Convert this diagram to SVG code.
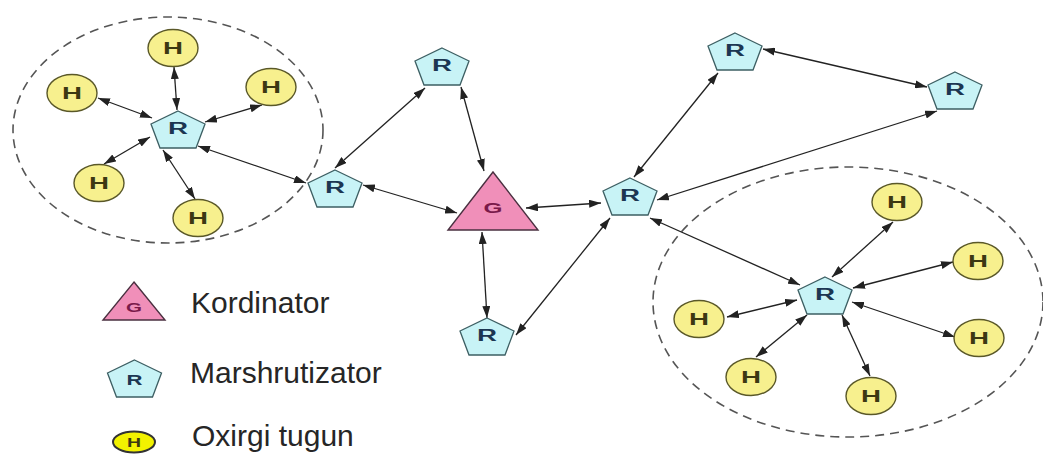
<svg xmlns="http://www.w3.org/2000/svg" width="1043" height="454" viewBox="0 0 1043 454">
<style>
.bg{fill:#ffffff}
.grp{fill:none;stroke:#555;stroke-width:1.6;stroke-dasharray:9 6}
.pent{fill:#c8f3f6;stroke:#3d5f63;stroke-width:1.3}
.host{fill:#f7f08e;stroke:#5a5828;stroke-width:1.4}
.coord{fill:#f08fb9;stroke:#4a3040;stroke-width:1.4}
.lbl{font-family:"Liberation Sans",Arial,sans-serif;font-weight:bold;text-anchor:middle}
.rt{fill:#1c3652;font-size:16px}
.ht{fill:#3c3812;font-size:16px}
.gt{fill:#7a1a4a;font-size:14px}
.edge{stroke:#222;stroke-width:1.3;fill:none;marker-start:url(#ah);marker-end:url(#ah)}
.leg{font-family:"Liberation Sans",Arial,sans-serif;font-size:30px;fill:#262626}
</style>
<defs>
<marker id="ah" markerUnits="userSpaceOnUse" markerWidth="12" markerHeight="8" refX="12" refY="4" orient="auto-start-reverse">
<path d="M0,0 L12,4 L0,8 Z" fill="#222"/>
</marker>
<path id="pentShape" d="M0,-19 L27,-6 L18,18 L-18,18 L-27,-6 Z"/>
</defs>
<rect class="bg" x="0" y="0" width="1043" height="454"/>
<g id="groups">
<ellipse class="grp" cx="168" cy="130" rx="155" ry="113"/>
<ellipse class="grp" cx="848" cy="302" rx="195" ry="135"/>
</g>
<g id="connectors">
<line class="edge" x1="174" y1="67" x2="177" y2="110"/>
<line class="edge" x1="98" y1="98" x2="152" y2="118"/>
<line class="edge" x1="262" y1="105" x2="205" y2="122"/>
<line class="edge" x1="104" y1="164" x2="150" y2="137"/>
<line class="edge" x1="195" y1="199" x2="163" y2="150"/>
<line class="edge" x1="198" y1="146" x2="306" y2="183"/>
<line class="edge" x1="335" y1="168" x2="425" y2="88"/>
<line class="edge" x1="363" y1="185" x2="457" y2="213"/>
<line class="edge" x1="461" y1="87" x2="484" y2="171"/>
<line class="edge" x1="482" y1="232" x2="487" y2="318"/>
<line class="edge" x1="526" y1="208" x2="601" y2="203"/>
<line class="edge" x1="610" y1="218" x2="516" y2="335"/>
<line class="edge" x1="634" y1="177" x2="718" y2="73"/>
<line class="edge" x1="763" y1="49" x2="927" y2="87"/>
<line class="edge" x1="657" y1="200" x2="937" y2="111"/>
<line class="edge" x1="650" y1="218" x2="800" y2="285"/>
<line class="edge" x1="832" y1="277" x2="893" y2="222"/>
<line class="edge" x1="853" y1="288" x2="953" y2="262"/>
<line class="edge" x1="852" y1="302" x2="955" y2="337"/>
<line class="edge" x1="842" y1="315" x2="870" y2="376"/>
<line class="edge" x1="807" y1="315" x2="756" y2="357"/>
<line class="edge" x1="797" y1="300" x2="727" y2="317"/>
</g>
<g id="R1" transform="translate(178,130)"><use href="#pentShape" class="pent"/><text class="lbl rt" x="0" y="4" textLength="20" lengthAdjust="spacingAndGlyphs">R</text></g>
<g id="R2" transform="translate(335,189)"><use href="#pentShape" class="pent"/><text class="lbl rt" x="0" y="4" textLength="20" lengthAdjust="spacingAndGlyphs">R</text></g>
<g id="R3" transform="translate(442,67)"><use href="#pentShape" class="pent"/><text class="lbl rt" x="0" y="4" textLength="20" lengthAdjust="spacingAndGlyphs">R</text></g>
<g id="R4" transform="translate(487,337)"><use href="#pentShape" class="pent"/><text class="lbl rt" x="0" y="4" textLength="20" lengthAdjust="spacingAndGlyphs">R</text></g>
<g id="R5" transform="translate(630,197)"><use href="#pentShape" class="pent"/><text class="lbl rt" x="0" y="4" textLength="20" lengthAdjust="spacingAndGlyphs">R</text></g>
<g id="R6" transform="translate(735,52)"><use href="#pentShape" class="pent"/><text class="lbl rt" x="0" y="4" textLength="20" lengthAdjust="spacingAndGlyphs">R</text></g>
<g id="R7" transform="translate(955,91)"><use href="#pentShape" class="pent"/><text class="lbl rt" x="0" y="4" textLength="20" lengthAdjust="spacingAndGlyphs">R</text></g>
<g id="R8" transform="translate(825,296)"><use href="#pentShape" class="pent"/><text class="lbl rt" x="0" y="4" textLength="20" lengthAdjust="spacingAndGlyphs">R</text></g>
<g id="G" transform="translate(493,201)"><path class="coord" d="M0,-29 L45,29 L-45,29 Z"/><text class="lbl gt" x="0" y="12" textLength="19" lengthAdjust="spacingAndGlyphs">G</text></g>
<g id="H1" transform="translate(173,48)"><ellipse class="host" rx="25" ry="18.5"/><text class="lbl ht" x="0" y="6" textLength="20" lengthAdjust="spacingAndGlyphs">H</text></g>
<g id="H2" transform="translate(72,93)"><ellipse class="host" rx="25" ry="18.5"/><text class="lbl ht" x="0" y="6" textLength="20" lengthAdjust="spacingAndGlyphs">H</text></g>
<g id="H3" transform="translate(271,87)"><ellipse class="host" rx="25" ry="18.5"/><text class="lbl ht" x="0" y="6" textLength="20" lengthAdjust="spacingAndGlyphs">H</text></g>
<g id="H4" transform="translate(99,183)"><ellipse class="host" rx="25" ry="18.5"/><text class="lbl ht" x="0" y="6" textLength="20" lengthAdjust="spacingAndGlyphs">H</text></g>
<g id="H5" transform="translate(198,218)"><ellipse class="host" rx="25" ry="18.5"/><text class="lbl ht" x="0" y="6" textLength="20" lengthAdjust="spacingAndGlyphs">H</text></g>
<g id="H6" transform="translate(897,202)"><ellipse class="host" rx="25" ry="18.5"/><text class="lbl ht" x="0" y="6" textLength="20" lengthAdjust="spacingAndGlyphs">H</text></g>
<g id="H7" transform="translate(978,261)"><ellipse class="host" rx="25" ry="18.5"/><text class="lbl ht" x="0" y="6" textLength="20" lengthAdjust="spacingAndGlyphs">H</text></g>
<g id="H8" transform="translate(979,338)"><ellipse class="host" rx="25" ry="18.5"/><text class="lbl ht" x="0" y="6" textLength="20" lengthAdjust="spacingAndGlyphs">H</text></g>
<g id="H9" transform="translate(699,319)"><ellipse class="host" rx="25" ry="18.5"/><text class="lbl ht" x="0" y="6" textLength="20" lengthAdjust="spacingAndGlyphs">H</text></g>
<g id="H10" transform="translate(751,377)"><ellipse class="host" rx="25" ry="18.5"/><text class="lbl ht" x="0" y="6" textLength="20" lengthAdjust="spacingAndGlyphs">H</text></g>
<g id="H11" transform="translate(871,396)"><ellipse class="host" rx="25" ry="18.5"/><text class="lbl ht" x="0" y="6" textLength="20" lengthAdjust="spacingAndGlyphs">H</text></g>
<g id="legend">
<g id="legend-G" transform="translate(134,301)"><path class="coord" d="M0,-19 L31,19 L-31,19 Z"/><text class="lbl gt" x="0" y="11" textLength="16" lengthAdjust="spacingAndGlyphs" style="font-size:13px">G</text></g>
<text class="leg" x="191" y="313">Kordinator</text>
<g id="legend-R" transform="translate(134.5,379)"><use href="#pentShape" class="pent"/><text class="lbl rt" x="0" y="6" textLength="16" lengthAdjust="spacingAndGlyphs" style="font-size:14px">R</text></g>
<text class="leg" x="190" y="383">Marshrutizator</text>
<g id="legend-H" transform="translate(134,442)"><ellipse rx="21" ry="10.5" fill="#f2f200" stroke="#333" stroke-width="2"/><text class="lbl ht" x="0" y="5" textLength="14" lengthAdjust="spacingAndGlyphs" style="font-size:13px">H</text></g>
<text class="leg" x="192" y="446">Oxirgi tugun</text>
</g>
</svg>
